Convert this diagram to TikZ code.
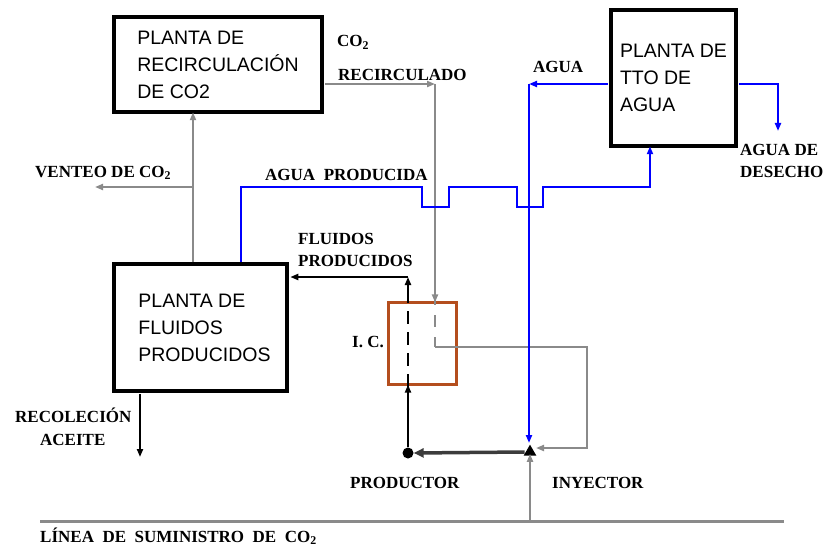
\documentclass[tikz,border=0pt]{standalone}
\usepackage{fontspec}
\setmainfont{Liberation Serif}
\newfontfamily\boxfont{Liberation Sans}
\usetikzlibrary{arrows.meta,shapes.geometric}
\definecolor{lgray}{RGB}{138,138,138}
\definecolor{dgray}{RGB}{60,60,60}
\definecolor{icbrown}{RGB}{180,78,30}
\definecolor{pblue}{RGB}{0,0,255}
\begin{document}
\begin{tikzpicture}[x=1pt,y=-1pt,
  plant/.style={draw=black, line width=3.5pt, inner sep=0pt, align=left,
    font=\boxfont\fontsize{19.5}{27}\selectfont},
  lbl/.style={font=\bfseries\fontsize{17}{19}\selectfont, inner sep=0pt, anchor=base west},
  tip/.style={-{Triangle[length=8pt,width=6pt]}},
  gline/.style={draw=lgray, line width=2.2pt},
  bline/.style={draw=pblue, line width=2.5pt},
  kline/.style={draw=black, line width=2.2pt},
]
\useasboundingbox (0,0) rectangle (826,548);
% boxes
\node[plant, minimum width=208pt, minimum height=95pt] (rec) at (218,64.5)
  {PLANTA DE\\RECIRCULACIÓN\\DE CO2};
\node[plant, minimum width=173pt, minimum height=127pt] (flu) at (200.5,327.5)
  {\hspace*{8pt}PLANTA DE\\\hspace*{8pt}FLUIDOS\\\hspace*{8pt}PRODUCIDOS};
\node[plant, minimum width=125pt, minimum height=136pt] (tto) at (673.5,78)
  {PLANTA DE\\TTO DE\\AGUA};
\node[draw=icbrown, line width=2.2pt, minimum width=68pt, minimum height=82pt, inner sep=0pt] (ic) at (422.5,343.5) {};
\node[circle, fill=black, minimum size=11pt, inner sep=0pt] (prod) at (408,453) {};
\node[isosceles triangle, isosceles triangle apex angle=60, shape border rotate=90,
  fill=black, minimum height=11pt, minimum width=12pt, inner sep=0pt] (inj) at (530,452) {};
% coordinates
\coordinate (c1) at (435,84);
\coordinate (c2) at (435,347);
\coordinate (c3) at (587,347);
\coordinate (c4) at (587,448);
\coordinate (c5) at (536,448);
\coordinate (v1) at (193,187);
\coordinate (vend) at (95,187);
\coordinate (w1) at (241,187);
\coordinate (wt) at (650,187);
\coordinate (bj) at (408,277);
\coordinate (a1) at (529,84);
\coordinate (a2) at (529,443);
\coordinate (d1) at (778,84);
\coordinate (dend) at (778,131);
\coordinate (oil) at (140,457);
\coordinate (sL) at (40,521);
\coordinate (sR) at (784,521);
\coordinate (sj) at (530,521);
% gray CO2 lines
\draw[gline,tip] (flu.north -| v1) -- ([yshift=1.5pt]rec.south -| v1);
\draw[gline,tip] (v1) -- (vend);
\draw[gline,tip] ([xshift=1.5pt]rec.east |- c1) -- (c1);
\draw[gline,tip] (c1) -- ([yshift=-1pt]ic.north -| c1);
\draw[gline, dash pattern=on 12pt off 10pt] ([yshift=8pt]ic.north -| c1) -- (c2);
\draw[gline,tip] (c2) -- (c3) -- (c4) -- (c5);
\draw[draw=lgray, line width=3pt] (sL) -- (sR);
\draw[gline,tip] (sj) -- ([yshift=2pt]inj.south);
% blue water lines
\draw[bline,tip] (flu.north -| w1) -- (w1) -- (422,187) -- (422,207) -- (449,207) -- (449,187)
  -- (517,187) -- (517,207) -- (543,207) -- (543,187) -- (wt) -- ([yshift=1.5pt]tto.south -| wt);
\draw[bline,tip] ([xshift=-1.5pt]tto.west |- a1) -- (a1);
\draw[bline,tip] (a1) -- (a2);
\draw[bline,tip] ([xshift=1.5pt]tto.east |- d1) -- (d1) -- (dend);
% black fluid lines
\draw[kline,tip] (prod) -- ([yshift=1pt]ic.south -| prod);
\draw[kline, dash pattern=on 13pt off 8pt] ([yshift=-1pt]ic.south -| prod) -- ([yshift=1pt]ic.north -| prod);
\draw[kline,tip] ([yshift=1pt]ic.north -| prod) -- (bj);
\draw[kline,tip] (bj) -- ([xshift=1.5pt]flu.east |- bj);
\draw[kline,tip] ([yshift=-1.5pt]flu.south -| oil) -- (oil);
\draw[draw=dgray, line width=3.5pt, -{Triangle[length=10pt,width=9pt]}] ([xshift=-1pt]inj.west) -- (prod.east);
% labels
\node[lbl] (lco2) at (337,47) {CO\textsubscript{2}};
\node[lbl] (lrec) at (338,81) {RECIRCULADO};
\node[lbl] (lagua) at (533,73) {AGUA};
\node[lbl] (ldes1) at (740,156) {AGUA DE};
\node[lbl] (ldes2) at (740,178) {DESECHO};
\node[lbl] (lvent) at (35,177) {VENTEO DE CO\textsubscript{2}};
\node[lbl] (lap) at (265,180) {AGUA\ \ PRODUCIDA};
\node[lbl] (lfp1) at (298,244) {FLUIDOS};
\node[lbl] (lfp2) at (298,266) {PRODUCIDOS};
\node[lbl] (lic) at (352,347) {I. C.};
\node[lbl] (lrc1) at (15,422) {RECOLECIÓN};
\node[lbl] (lrc2) at (40,445) {ACEITE};
\node[lbl] (lprod) at (350,488) {PRODUCTOR};
\node[lbl] (linj) at (552,488) {INYECTOR};
\node[lbl] (lsum) at (40,542) {LÍNEA\ \ DE\ \ SUMINISTRO\ \ DE\ \ CO\textsubscript{2}};
\end{tikzpicture}
\end{document}
